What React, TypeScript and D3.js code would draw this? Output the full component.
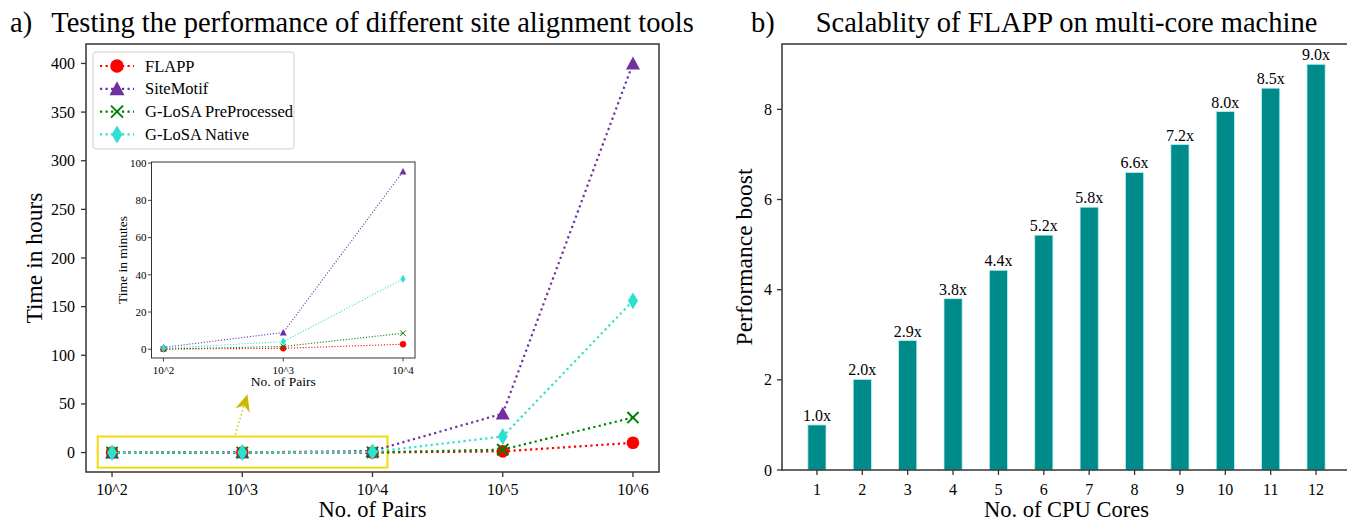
import React from 'react';
import * as d3 from 'd3';

// ---------- data ----------
const pairLabels = ['10^2', '10^3', '10^4', '10^5', '10^6'];
const seriesNames = ['FLAPP', 'SiteMotif', 'G-LoSA PreProcessed', 'G-LoSA Native'];
const seriesColors = ['#ff0000', '#7030a0', '#008000', '#2ee0d0'];
const seriesMarkers = ['circle', 'triangle', 'x', 'diamond'];
const flappHours = [0.002, 0.008, 0.045, 1.2, 10];
const siteMotifHours = [0.017, 0.15, 1.6, 40, 400];
const glosaPPHours = [0.002, 0.03, 0.14, 3, 36];
const glosaNativeHours = [0.008, 0.068, 0.63, 16.5, 156];
const hourTicks = [0, 50, 100, 150, 200, 250, 300, 350, 400];

const insetLabels = ['10^2', '10^3', '10^4'];
const flappMinutes = [0.1, 0.5, 2.7];
const siteMotifMinutes = [1, 9, 95.5];
const glosaPPMinutes = [0.1, 1.5, 8.6];
const glosaNativeMinutes = [0.5, 4.1, 37.8];
const minuteTicks = [0, 20, 40, 60, 80, 100];

const cores = [1, 2, 3, 4, 5, 6, 7, 8, 9, 10, 11, 12];
const boost = [1.0, 2.01, 2.87, 3.8, 4.43, 5.21, 5.83, 6.6, 7.22, 7.95, 8.47, 9.0];
const boostTicks = [0, 2, 4, 6, 8];

const hoursSeries = [flappHours, siteMotifHours, glosaPPHours, glosaNativeHours];
const minutesSeries = [flappMinutes, siteMotifMinutes, glosaPPMinutes, glosaNativeMinutes];

const FONT = "'Liberation Serif', 'Times New Roman', serif";
const SPINE = '#333';

function Marker({ type, x, y, s, color, sw }: { type: string; x: number; y: number; s: number; color: string; sw: number }) {
  if (type === 'circle') return <circle cx={x} cy={y} r={s * 0.9} fill={color} />;
  if (type === 'triangle')
    return <path d={`M${x},${y - s}L${x - s},${y + s * 0.85}L${x + s},${y + s * 0.85}Z`} fill={color} />;
  if (type === 'x') {
    const k = s * 0.8;
    return (
      <path d={`M${x - k},${y - k}L${x + k},${y + k}M${x - k},${y + k}L${x + k},${y - k}`} stroke={color} strokeWidth={sw} fill="none" />
    );
  }
  return <path d={`M${x},${y - s * 1.2}L${x + s * 0.72},${y}L${x},${y + s * 1.2}L${x - s * 0.72},${y}Z`} fill={color} />;
}

export default function App() {
  // ---------- left main axes ----------
  const L = { x0: 86, x1: 659, y0: 44, y1: 472 };
  const xMain = d3.scaleLinear().domain([-0.2, 4.2]).range([L.x0, L.x1]);
  const yMain = d3.scaleLinear().domain([-20, 420]).range([L.y1, L.y0]);
  const lineMain = d3.line<number>().x((_, i) => xMain(i)).y((v) => yMain(v));

  // ---------- inset ----------
  const I = { x0: 151.5, x1: 415, y0: 162, y1: 358 };
  const xIn = d3.scaleLinear().domain([-0.1, 2.1]).range([I.x0, I.x1]);
  const yIn = d3.scaleLinear().domain([-4.7, 100.6]).range([I.y1, I.y0]);
  const lineIn = d3.line<number>().x((_, i) => xIn(i)).y((v) => yIn(v));

  // ---------- right bar axes ----------
  const R = { x0: 782, x1: 1351, y0: 44, y1: 470 };
  const xBar = d3.scaleLinear().domain([0.23, 12.77]).range([R.x0, R.x1]);
  const yBar = d3.scaleLinear().domain([0, 9.45]).range([R.y1, R.y0]);
  const barW = xBar(1.4) - xBar(1);

  // annotation rect & arrow (data coords of main axes)
  const rx0 = xMain(-0.11), rx1 = xMain(2.115), ry0 = yMain(16.5), ry1 = yMain(-15.5);
  const tail = [xMain(0.946), yMain(18.5)];
  const tip = [xMain(1.04), yMain(60)];
  const dx = tip[0] - tail[0], dy = tip[1] - tail[1];
  const len = Math.hypot(dx, dy);
  const ux = dx / len, uy = dy / len;
  const px = -uy, py = ux;
  const hl = 17, hw = 7.5;
  const bx = tip[0] - ux * hl, by = tip[1] - uy * hl;
  const nx = tip[0] - ux * hl * 0.7, ny = tip[1] - uy * hl * 0.7;
  const headPath = `M${tip[0]},${tip[1]}L${bx + px * hw},${by + py * hw}L${nx},${ny}L${bx - px * hw},${by - py * hw}Z`;

  return (
    <svg width={1347} height={521} style={{ position: 'absolute', left: 0, top: 0, background: '#fff' }} fontFamily={FONT}>
      <rect x={0} y={0} width={1347} height={521} fill="#fff" />

      {/* ===== LEFT PANEL ===== */}
      <text x={10} y={32} fontSize={28.5}>a)</text>
      <text x={(L.x0 + L.x1) / 2} y={32} fontSize={28.5} textAnchor="middle">Testing the performance of different site alignment tools</text>

      {/* annotation rect */}
      <rect x={rx0} y={ry0} width={rx1 - rx0} height={ry1 - ry0} fill="none" stroke="#f5d90a" strokeWidth={2} />
      {/* arrow */}
      <line x1={tail[0]} y1={tail[1]} x2={nx} y2={ny} stroke="#d4c20a" strokeWidth={1.5} strokeDasharray="1.5 2.5" />
      <path d={headPath} fill="#cdb800" />

      {/* series */}
      {hoursSeries.map((vals, si) => (
        <g key={si}>
          <path d={lineMain(vals) || ''} fill="none" stroke={seriesColors[si]} strokeWidth={2.2} strokeDasharray="2.2 3.3" />
          {vals.map((v, i) => (
            <Marker key={i} type={seriesMarkers[si]} x={xMain(i)} y={yMain(v)} s={7} color={seriesColors[si]} sw={2} />
          ))}
        </g>
      ))}

      {/* spines */}
      <rect x={L.x0} y={L.y0} width={L.x1 - L.x0} height={L.y1 - L.y0} fill="none" stroke={SPINE} strokeWidth={1.5} />
      {/* y ticks */}
      {hourTicks.map((t) => (
        <g key={t}>
          <line x1={L.x0 - 5} x2={L.x0} y1={yMain(t)} y2={yMain(t)} stroke={SPINE} strokeWidth={1.3} />
          <text x={L.x0 - 11} y={yMain(t) + 5.5} fontSize={16} textAnchor="end">{t}</text>
        </g>
      ))}
      {pairLabels.map((lab, i) => (
        <g key={lab}>
          <line x1={xMain(i)} x2={xMain(i)} y1={L.y1} y2={L.y1 + 5} stroke={SPINE} strokeWidth={1.3} />
          <text x={xMain(i)} y={L.y1 + 23} fontSize={16} textAnchor="middle">{lab}</text>
        </g>
      ))}
      <text x={(L.x0 + L.x1) / 2} y={517} fontSize={22.5} textAnchor="middle">No. of Pairs</text>
      <text transform={`translate(42,${(L.y0 + L.y1) / 2}) rotate(-90)`} fontSize={23.5} textAnchor="middle">Time in hours</text>

      {/* legend */}
      <rect x={93} y={52} width={201} height={97} rx={3} fill="#fff" fillOpacity={0.8} stroke="#d0d0d0" strokeWidth={1} />
      {seriesNames.map((name, si) => {
        const ly = 66 + si * 22.8;
        return (
          <g key={name}>
            <line x1={100} x2={134} y1={ly} y2={ly} stroke={seriesColors[si]} strokeWidth={2.2} strokeDasharray="2.2 3.3" />
            <Marker type={seriesMarkers[si]} x={117} y={ly} s={7.5} color={seriesColors[si]} sw={2} />
            <text x={145} y={ly + 5.5} fontSize={16.5}>{name}</text>
          </g>
        );
      })}

      {/* ===== INSET ===== */}
      <rect x={I.x0} y={I.y0} width={I.x1 - I.x0} height={I.y1 - I.y0} fill="#fff" />
      {minutesSeries.map((vals, si) => (
        <g key={si}>
          <path d={lineIn(vals) || ''} fill="none" stroke={seriesColors[si]} strokeWidth={1.1} strokeDasharray="1.1 1.8" />
          {vals.map((v, i) => (
            <Marker key={i} type={seriesMarkers[si]} x={xIn(i)} y={yIn(v)} s={3.5} color={seriesColors[si]} sw={1} />
          ))}
        </g>
      ))}
      <rect x={I.x0} y={I.y0} width={I.x1 - I.x0} height={I.y1 - I.y0} fill="none" stroke={SPINE} strokeWidth={1} />
      {minuteTicks.map((t) => (
        <g key={t}>
          <line x1={I.x0 - 3.5} x2={I.x0} y1={yIn(t)} y2={yIn(t)} stroke={SPINE} strokeWidth={0.9} />
          <text x={I.x0 - 5} y={yIn(t) + 3.8} fontSize={11} textAnchor="end">{t}</text>
        </g>
      ))}
      {insetLabels.map((lab, i) => (
        <g key={lab}>
          <line x1={xIn(i)} x2={xIn(i)} y1={I.y1} y2={I.y1 + 3.5} stroke={SPINE} strokeWidth={0.9} />
          <text x={xIn(i)} y={I.y1 + 16} fontSize={11} textAnchor="middle">{lab}</text>
        </g>
      ))}
      <text x={(I.x0 + I.x1) / 2} y={386} fontSize={13.5} textAnchor="middle">No. of Pairs</text>
      <text transform={`translate(127,${(I.y0 + I.y1) / 2}) rotate(-90)`} fontSize={13.5} textAnchor="middle">Time in minutes</text>

      {/* ===== RIGHT PANEL ===== */}
      <text x={751} y={32} fontSize={28.5}>b)</text>
      <text x={(R.x0 + R.x1) / 2} y={32} fontSize={28.5} textAnchor="middle">Scalablity of FLAPP on multi-core machine</text>

      {cores.map((c, i) => (
        <g key={c}>
          <rect x={xBar(c) - barW / 2} y={yBar(boost[i])} width={barW} height={yBar(0) - yBar(boost[i])} fill="#008b8b" stroke="#b8f0ee" strokeWidth={0.8} />
          <text x={xBar(c)} y={yBar(boost[i]) - 4} fontSize={16} textAnchor="middle">{boost[i].toFixed(1)}x</text>
        </g>
      ))}
      <rect x={R.x0} y={R.y0} width={R.x1 - R.x0} height={R.y1 - R.y0} fill="none" stroke={SPINE} strokeWidth={1.5} />
      {boostTicks.map((t) => (
        <g key={t}>
          <line x1={R.x0 - 5} x2={R.x0} y1={yBar(t)} y2={yBar(t)} stroke={SPINE} strokeWidth={1.3} />
          <text x={R.x0 - 10} y={yBar(t) + 5.5} fontSize={16} textAnchor="end">{t}</text>
        </g>
      ))}
      {cores.map((c) => (
        <g key={c}>
          <line x1={xBar(c)} x2={xBar(c)} y1={R.y1} y2={R.y1 + 5} stroke={SPINE} strokeWidth={1.3} />
          <text x={xBar(c)} y={R.y1 + 25} fontSize={16} textAnchor="middle">{c}</text>
        </g>
      ))}
      <text x={(R.x0 + R.x1) / 2} y={517} fontSize={22.5} textAnchor="middle">No. of CPU Cores</text>
      <text transform={`translate(752,${(R.y0 + R.y1) / 2}) rotate(-90)`} fontSize={23.5} textAnchor="middle">Performance boost</text>
    </svg>
  );
}
